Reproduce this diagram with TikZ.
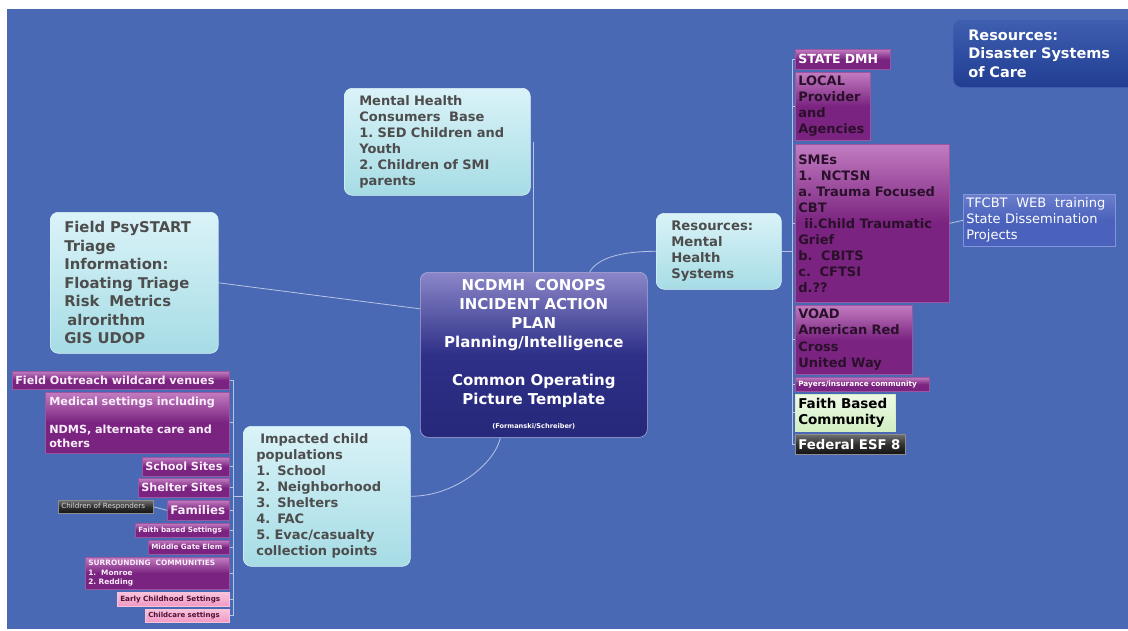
\documentclass[tikz,border=0pt]{standalone}
\usepackage{fontspec}
\setmainfont{DejaVu Sans}
\definecolor{bg}{HTML}{4A69B5}
\definecolor{connc}{HTML}{B8C4E4}
\definecolor{cyt}{HTML}{DAF3F8}
\definecolor{cyb}{HTML}{A6DCE5}
\definecolor{cytx}{HTML}{4D4D4D}
\definecolor{magt}{HTML}{C27CC0}
\definecolor{magd}{HTML}{7A2380}
\definecolor{magb}{HTML}{9C55A0}
\definecolor{magtx}{HTML}{2B102B}
\definecolor{magwt}{HTML}{FBEEFB}
\definecolor{pkt}{HTML}{F8C2DC}
\definecolor{pkb}{HTML}{F09AC4}
\definecolor{pktx}{HTML}{4E1234}
\definecolor{grt}{HTML}{EEF9E6}
\definecolor{grb}{HTML}{D2EEC2}
\definecolor{dkt}{HTML}{707070}
\definecolor{dkb}{HTML}{141414}
\definecolor{cnt}{HTML}{8A86C8}
\definecolor{cnm}{HTML}{2E3088}
\definecolor{cnb}{HTML}{26287A}
\definecolor{dst}{HTML}{3E5EB0}
\definecolor{dsb}{HTML}{213E92}
\definecolor{tft}{HTML}{6A7ECC}
\definecolor{tfb}{HTML}{4A62BC}
\definecolor{tfbd}{HTML}{8294DC}
\begin{document}
\frenchspacing
\begin{tikzpicture}[x=1pt,y=-1pt,
  conn/.style={draw=connc, line width=0.8pt},
  bx/.style={anchor=north west, inner ysep=0pt, inner xsep=3pt, align=left},
  fnt/.style 2 args={font=\bfseries\fontsize{#1}{#2}\selectfont},
  rfnt/.style 2 args={font=\fontsize{#1}{#2}\selectfont},
  mag/.style={bx, draw=magb, line width=0.6pt, top color=magt, bottom color=magd, middle color=magd},
  pink/.style={bx, draw=pkt, line width=0.6pt, top color=pkt, bottom color=pkb, text=pktx},
  cy/.style={bx, draw=cyt, line width=0.6pt, rounded corners=8pt, top color=cyt, bottom color=cyb, text=cytx},
  dark/.style={bx, draw=dkt!80!white, line width=0.6pt, top color=dkt, bottom color=dkb, middle color=dkb!70!dkt, text=white}
]
\useasboundingbox (0,0) rectangle (1128,630);
\fill[white] (0,0) rectangle (1128,630);
\fill[bg] (7,9) rectangle (1128,629);

% ---------- centre ----------
\node[anchor=north west, inner sep=0pt, align=center, text width=215pt, minimum width=227pt, minimum height=165pt,
      rounded corners=8pt, draw=cnt!70!white, line width=0.6pt, top color=cnt, bottom color=cnb, middle color=cnm,
      text=white, fnt={15}{19}] (center) at (420,272)
  {NCDMH\ \ CONOPS\\INCIDENT ACTION\\PLAN\\Planning/Intelligence\\[19pt]Common Operating\\Picture Template\\[5pt]{\fontsize{6.6}{8}\selectfont (Formanski/Schreiber)}};

% ---------- cyan boxes ----------
\node[cy, inner xsep=15pt, text width=156pt, minimum height=107pt, fnt={13}{16}] (mhc) at (344,88)
  {Mental Health\\Consumers\ \ Base\\1. SED Children and\\Youth\\2. Children of SMI\\parents};
\node[cy, inner xsep=14pt, text width=140pt, minimum height=141pt, fnt={14.8}{18.5}] (fps) at (50,212)
  {Field PsySTART\\Triage\\Information:\\Floating Triage\\Risk\ \ Metrics\\\hspace*{3pt}alrorithm\\GIS UDOP};
\node[cy, inner xsep=15pt, text width=95pt, minimum height=76pt, fnt={13.2}{16}] (rmh) at (656,213)
  {Resources:\\Mental\\Health\\Systems};
\node[cy, inner xsep=13pt, text width=141pt, minimum height=140pt, fnt={13}{16}] (imp) at (243,426)
  {\hspace*{4pt}Impacted child\\populations\\1.\hspace{7pt}School\\2.\hspace{7pt}Neighborhood\\3.\hspace{7pt}Shelters\\4.\hspace{7pt}FAC\\5. Evac/casualty\\collection points};

% ---------- disaster systems ----------
\node[bx, inner xsep=15pt, text width=175pt, minimum height=67pt, rounded corners=8pt, draw=dst, line width=0.6pt,
      top color=dst, bottom color=dsb, text=white, fnt={14.5}{18.5}] (dsc) at (953,20)
  {Resources:\\Disaster Systems\\of Care};

% ---------- right stack ----------
\node[mag, text=white, text width=89pt, minimum height=20pt, fnt={12.5}{15}] (sdmh) at (795,49) {STATE DMH};
\node[mag, text=magtx, text width=69pt, minimum height=68pt, fnt={13}{16}] (local) at (795,72)
  {LOCAL\\Provider\\and\\Agencies};
\node[mag, text=magtx, text width=148pt, minimum height=158pt, fnt={13}{16}] (smes) at (795,144)
  {SMEs\\1.\ \ NCTSN\\a. Trauma Focused\\CBT\\\hspace*{6pt}ii.Child Traumatic\\Grief\\b.\ \ CBITS\\c.\ \ CFTSI\\d.??};
\node[mag, text=magtx, text width=111pt, minimum height=69pt, fnt={13}{16.5}] (voad) at (795,305)
  {VOAD\\American Red\\Cross\\United Way};
\node[mag, text=white, text width=128pt, minimum height=14pt, fnt={7.3}{9}] (payers) at (795,377)
  {Payers/insurance community};
\node[bx, draw=grb, line width=0.6pt, top color=grt, bottom color=grb, text=black, text width=94pt, minimum height=37pt, fnt={13.5}{16}] (faith) at (795,394)
  {Faith Based\\Community};
\node[dark, text width=104pt, minimum height=20pt, fnt={13.3}{16}] (esf) at (795,434) {Federal ESF 8};
\node[bx, draw=tfbd, line width=0.6pt, top color=tft, bottom color=tfb, middle color=tfb, text=white,
      text width=146pt, minimum height=52pt, rfnt={13}{16}] (tfcbt) at (963,194)
  {TFCBT~ WEB~ training\\State Dissemination\\Projects};

% ---------- left stack ----------
\node[mag, text=magwt, text width=211pt, minimum height=18pt, fnt={11.2}{14}] (fo) at (12,371)
  {Field Outreach wildcard venues};
\node[mag, text=magwt, inner xsep=4pt, text width=176pt, minimum height=61pt, fnt={11.2}{14}] (med) at (45,392)
  {Medical settings including\\\mbox{}\\NDMS, alternate care and\\others};
\node[mag, text=magwt, text width=81pt, minimum height=19pt, fnt={11.2}{14}] (school) at (142,457) {School Sites};
\node[mag, text=magwt, text width=85pt, minimum height=19pt, fnt={11.2}{14}] (shelter) at (138,478) {Shelter Sites};
\node[mag, text=magwt, text width=56pt, minimum height=20pt, fnt={11.8}{14}] (fam) at (167,500) {Families};
\node[dark, text=white!85!black, text width=89pt, minimum height=13pt, rfnt={7.2}{9}] (cor) at (58,500) {Children of Responders};
\node[mag, text=magwt, text width=88pt, minimum height=14pt, fnt={7.2}{9}] (fbs) at (135,523) {Faith based Settings};
\node[mag, text=magwt, text width=75pt, minimum height=14pt, fnt={7.2}{9}] (mge) at (148,540) {Middle Gate Elem};
\node[mag, text=magwt, text width=138pt, minimum height=32pt, fnt={7.4}{9.5}] (sur) at (85,557)
  {SURROUNDING\ \ COMMUNITIES\\1.\ \ Monroe\\2. Redding};
\node[pink, text width=106pt, minimum height=14pt, fnt={7.2}{9}] (ecs) at (117,592) {Early Childhood Settings};
\node[pink, text width=78pt, minimum height=13pt, fnt={7}{9}] (ccs) at (145,609) {Childcare settings};

% ---------- connectors ----------
\coordinate (rtr) at (792,0);
\coordinate (ltr) at (233,0);
\draw[conn] (sdmh.west -| rtr) -- (esf.west -| rtr);
\foreach \n in {sdmh,local,smes,voad,payers,faith,esf} \draw[conn] (\n.west) -- (\n.west -| rtr);
\draw[conn] (rmh.east) -- (rmh.east -| rtr);
\draw[conn] (smes.east) -- (tfcbt.west);
\draw[conn] (fo.east -| ltr) -- (ccs.east -| ltr);
\foreach \n in {fo,med,school,shelter,fam,fbs,mge,sur,ecs,ccs} \draw[conn] (\n.east) -- (\n.east -| ltr);
\draw[conn] (imp.west) -- (imp.west -| ltr);
\draw[conn] (cor.east) -- (fam.west);
\draw[conn] ([xshift=3pt]mhc.east) -- ([xshift=3pt]mhc.east |- center.north);
\draw[conn] (fps.east) -- (center.158);
\draw[conn] (center.56) .. controls +(8,-14) and +(-35,0) .. (rmh.west);
\draw[conn] (imp.east) .. controls +(45,0) and +(-5,25) .. (center.248);
\end{tikzpicture}
\end{document}
